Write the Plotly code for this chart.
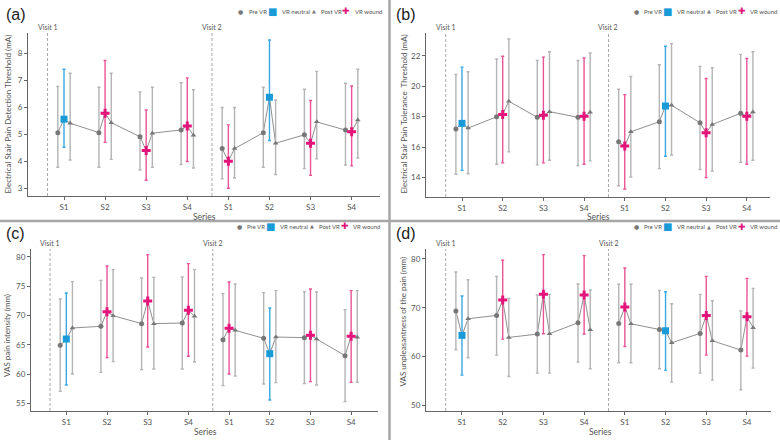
import plotly.graph_objects as go

W, H = 780, 440

# ---------------- data ----------------
cats = ["S1", "S2", "S3", "S4", "S1", "S2", "S3", "S4"]
visit_labels = ["Visit 1", "Visit 2"]
vr_type = ["neutral", "wound", "wound", "wound", "wound", "neutral", "wound", "wound"]

# (a) Electrical stair pain detection threshold (mA)
a_pre = [5.06, 5.06, 4.91, 5.16, 4.47, 5.06, 4.98, 5.16]
a_pre_hi = [6.77, 6.74, 6.57, 6.91, 5.99, 6.74, 6.67, 6.89]
a_pre_lo = [3.78, 3.78, 3.68, 3.88, 3.35, 3.78, 3.73, 3.86]
a_vr = [5.56, 5.78, 4.40, 5.31, 4.00, 6.37, 4.67, 5.09]
a_vr_hi = [7.41, 7.73, 5.90, 7.09, 5.35, 8.49, 6.25, 6.79]
a_vr_lo = [4.52, 4.70, 3.30, 3.99, 3.00, 4.77, 3.48, 3.83]
a_post = [5.41, 5.43, 5.04, 4.96, 4.47, 4.67, 5.46, 5.53]
a_post_hi = [7.26, 7.26, 6.74, 6.65, 5.99, 6.27, 7.33, 7.41]
a_post_lo = [4.05, 4.07, 3.78, 3.75, 3.38, 3.51, 4.09, 4.12]

# (b) Electrical stair pain tolerance threshold (mA)
b_pre = [17.19, 18.00, 17.96, 17.96, 16.35, 17.67, 17.60, 18.22]
b_pre_hi = [20.77, 21.78, 21.69, 21.69, 19.80, 21.41, 21.30, 22.09]
b_pre_lo = [14.22, 14.88, 14.84, 14.79, 13.47, 14.59, 14.53, 15.01]
b_vr = [17.56, 18.15, 18.09, 18.02, 16.07, 18.70, 16.95, 18.02]
b_vr_hi = [21.25, 21.96, 21.91, 21.85, 19.45, 22.62, 20.50, 21.82]
b_vr_lo = [14.48, 14.97, 14.97, 14.88, 13.25, 15.40, 14.00, 14.88]
b_post = [17.25, 19.01, 18.33, 18.29, 17.01, 18.75, 17.49, 18.31]
b_post_hi = [20.95, 23.10, 22.26, 22.18, 20.64, 22.79, 21.21, 22.26]
b_post_lo = [14.26, 15.69, 15.14, 15.10, 14.04, 15.49, 14.44, 15.14]

# (c) VAS pain intensity (mm)
c_pre = [64.94, 68.18, 68.64, 68.75, 65.90, 66.14, 66.25, 63.18]
c_pre_hi = [72.84, 76.02, 76.42, 76.60, 73.75, 73.92, 74.09, 71.02]
c_pre_lo = [57.10, 60.34, 60.80, 60.90, 58.07, 58.35, 58.41, 55.34]
c_vr = [66.02, 70.68, 72.50, 70.90, 67.84, 63.52, 66.65, 66.48]
c_vr_hi = [73.86, 78.47, 80.40, 78.86, 75.74, 71.30, 74.55, 74.26]
c_vr_lo = [58.18, 62.84, 64.66, 63.07, 60.06, 55.63, 58.75, 58.64]
c_post = [67.90, 70.00, 68.64, 69.90, 67.50, 66.36, 66.02, 66.30]
c_post_hi = [75.80, 77.84, 76.53, 77.84, 75.40, 74.26, 74.03, 74.26]
c_post_lo = [60.06, 62.16, 60.90, 62.10, 59.72, 58.58, 58.18, 58.64]

# (d) VAS unpleasantness of the pain (mm)
d_pre = [69.32, 68.42, 64.59, 66.92, 66.78, 65.55, 64.73, 61.30]
d_pre_hi = [77.33, 76.44, 72.60, 74.86, 74.80, 73.56, 72.74, 69.32]
d_pre_lo = [61.37, 60.27, 56.58, 58.84, 58.70, 57.47, 56.58, 53.15]
d_vr = [64.32, 71.58, 72.74, 72.60, 70.14, 65.27, 68.42, 68.15]
d_vr_hi = [72.40, 79.73, 80.90, 80.68, 78.15, 73.29, 76.44, 76.03]
d_vr_lo = [56.16, 63.56, 64.66, 64.59, 62.05, 57.19, 60.27, 60.07]
d_post = [67.74, 63.90, 64.66, 65.48, 66.71, 62.80, 63.22, 65.89]
d_post_hi = [75.75, 71.92, 72.74, 73.63, 74.80, 70.80, 71.44, 73.97]
d_post_lo = [59.73, 55.89, 56.58, 57.47, 58.70, 54.73, 55.14, 57.60]

y_titles = [
    "Electrical Stair Pain Detection Threshold (mA)",
    "Electrical Stair Pain Tolerance  Threshold (mA)",
    "VAS pain intensity (mm)",
    "VAS unpleasantness of the pain (mm)",
]
panel_labels = ["(a)", "(b)", "(c)", "(d)"]
legend_names = ["Pre VR", "VR neutral", "Post VR", "VR wound"]

# ---------------- styles / layout geometry ----------------
FONT = "Lato"
TXT = "#555555"
GRAY_M = "#777777"
GRAY_E = "#b4b4b4"
LINE_C = "#8f8f8f"
BLUE = "#1b9ad8"
BLUE_E = "#3aa8e2"
PINK = "#e3157a"
PINK_E = "#ea5496"
OFF = 0.15

panels = [
    dict(data=(a_pre, a_pre_hi, a_pre_lo, a_vr, a_vr_hi, a_vr_lo, a_post, a_post_hi, a_post_lo),
         px=(28, 380), py=(33, 196), xr=[-0.876, 7.69], yr=[2.715, 8.75], dtick=1,
         yt=(7, 114.5), lab=(4, 15), leg=(240.7, 11), vy=27, sx=(204, 217)),
    dict(data=(b_pre, b_pre_hi, b_pre_lo, b_vr, b_vr_hi, b_vr_lo, b_post, b_post_hi, b_post_lo),
         px=(426, 770), py=(33, 197), xr=[-0.885, 7.57], yr=[12.73, 23.49], dtick=2,
         yt=(403, 114.5), lab=(394, 15), leg=(636, 11), vy=27, sx=(598, 217)),
    dict(data=(c_pre, c_pre_hi, c_pre_lo, c_vr, c_vr_hi, c_vr_lo, c_post, c_post_hi, c_post_lo),
         px=(31, 378), py=(249, 411), xr=[-0.868, 7.66], yr=[53.75, 81.36], dtick=5,
         yt=(7, 336), lab=(4, 233), leg=(239.3, 226), vy=243, sx=(205, 432)),
    dict(data=(d_pre, d_pre_hi, d_pre_lo, d_vr, d_vr_hi, d_vr_lo, d_post, d_post_hi, d_post_lo),
         px=(426, 771), py=(249, 411), xr=[-0.884, 7.59], yr=[48.8, 82.05], dtick=10,
         yt=(402, 321.5), lab=(394, 233), leg=(636, 227), vy=243, sx=(600, 432)),
]


def fx(p):
    return p / W


def fy(p):
    return 1 - p / H


fig = go.Figure()
annotations = []
shapes = []
layout = {}

for i, P in enumerate(panels):
    n = "" if i == 0 else str(i + 1)
    xa, ya = "x" + n, "y" + n
    pre, pre_hi, pre_lo, vr, vr_hi, vr_lo, post, post_hi, post_lo = P["data"]
    pos = list(range(len(cats)))

    # connecting line (separate per visit)
    lx, ly = [], []
    for k in pos:
        if k == 4:
            lx.append(None)
            ly.append(None)
        lx += [k - OFF, k, k + OFF]
        ly += [pre[k], vr[k], post[k]]
    fig.add_trace(go.Scatter(x=lx, y=ly, mode="lines", line=dict(color=LINE_C, width=1),
                             xaxis=xa, yaxis=ya, showlegend=False, hoverinfo="skip"))

    def add(xs, ys, hi, lo, sym, col, ecol, size, name):
        fig.add_trace(go.Scatter(
            x=xs, y=ys, mode="markers", name=name, xaxis=xa, yaxis=ya, showlegend=False,
            marker=dict(symbol=sym, color=col, size=size, line=dict(width=0)),
            error_y=dict(type="data", symmetric=False,
                         array=[h - v for h, v in zip(hi, ys)],
                         arrayminus=[v - l for v, l in zip(ys, lo)],
                         color=ecol, thickness=1.4, width=1.5)))

    add([k - OFF for k in pos], pre, pre_hi, pre_lo, "circle", GRAY_M, GRAY_E, 5, "Pre VR")
    add([k + OFF for k in pos], post, post_hi, post_lo, "triangle-up", GRAY_M, GRAY_E, 5, "Post VR")
    idx_n = [k for k in pos if vr_type[k] == "neutral"]
    idx_w = [k for k in pos if vr_type[k] == "wound"]
    add(idx_n, [vr[k] for k in idx_n], [vr_hi[k] for k in idx_n], [vr_lo[k] for k in idx_n],
        "square", BLUE, BLUE_E, 7, "VR neutral")
    add(idx_w, [vr[k] for k in idx_w], [vr_hi[k] for k in idx_w], [vr_lo[k] for k in idx_w],
        "cross", PINK, PINK_E, 7.5, "VR wound")

    layout["xaxis" + n] = dict(
        domain=[fx(P["px"][0]), fx(P["px"][1])], anchor=ya, range=P["xr"],
        tickmode="array", tickvals=pos, ticktext=cats, showgrid=False, zeroline=False,
        showline=True, linecolor="#666666", linewidth=1, ticks="outside", ticklen=3,
        tickcolor="#666666", tickfont=dict(family=FONT, size=8, color=TXT))
    layout["yaxis" + n] = dict(
        domain=[fy(P["py"][1]), fy(P["py"][0])], anchor=xa, range=P["yr"], dtick=P["dtick"],
        showgrid=False, zeroline=False, showline=True, linecolor="#666666", linewidth=1,
        ticks="outside", ticklen=3, tickcolor="#666666",
        tickfont=dict(family=FONT, size=8, color=TXT))

    # visit separators
    for vx, vl in zip([-0.4, 3.6], visit_labels):
        shapes.append(dict(type="line", xref=xa, yref=ya + " domain", x0=vx, x1=vx, y0=0, y1=1,
                           line=dict(color="#a8a8a8", width=1, dash="3px,2px")))
        annotations.append(dict(xref=xa, yref="paper", x=vx, y=fy(P["vy"]), text=vl,
                                showarrow=False, font=dict(family=FONT, size=7, color=TXT),
                                xanchor="center", yanchor="middle"))

    # titles
    annotations.append(dict(xref="paper", yref="paper", x=fx(P["yt"][0]), y=fy(P["yt"][1]),
                            text=y_titles[i], textangle=-90, showarrow=False,
                            font=dict(family=FONT, size=8, color=TXT),
                            xanchor="center", yanchor="middle"))
    annotations.append(dict(xref="paper", yref="paper", x=fx(P["sx"][0]), y=fy(P["sx"][1]),
                            text="Series", showarrow=False,
                            font=dict(family=FONT, size=8.5, color=TXT),
                            xanchor="center", yanchor="middle"))
    annotations.append(dict(xref="paper", yref="paper", x=fx(P["lab"][0]), y=fy(P["lab"][1]),
                            text=panel_labels[i], showarrow=False,
                            font=dict(family="Liberation Sans", size=16, color="#222222"),
                            xanchor="left", yanchor="middle"))

    # custom compact legend
    lx0, ly0 = P["leg"]
    glyphs = [("●", GRAY_M, 6), ("■", BLUE, 10), ("▲", GRAY_M, 5), ("✚", PINK, 9)]
    m_off = [0, 31.5, 73, 105.5]
    t_off = [6, 39, 78, 112]
    for (g, c, s), mo, to, name in zip(glyphs, m_off, t_off, legend_names):
        annotations.append(dict(xref="paper", yref="paper", x=fx(lx0 + mo), y=fy(ly0),
                                text=g, showarrow=False, font=dict(family="DejaVu Sans", size=s, color=c),
                                xanchor="center", yanchor="middle"))
        annotations.append(dict(xref="paper", yref="paper", x=fx(lx0 + to), y=fy(ly0),
                                text=name, showarrow=False, font=dict(family=FONT, size=6, color=TXT),
                                xanchor="left", yanchor="middle"))

# panel dividers
shapes.append(dict(type="line", xref="paper", yref="paper", x0=fx(389.5), x1=fx(389.5), y0=0, y1=1,
                   line=dict(color="#a6a6a6", width=2.5)))
shapes.append(dict(type="line", xref="paper", yref="paper", x0=0, x1=1, y0=fy(221), y1=fy(221),
                   line=dict(color="#a6a6a6", width=2.5)))

fig.update_layout(
    width=W, height=H, margin=dict(l=0, r=0, t=0, b=0),
    paper_bgcolor="white", plot_bgcolor="white", showlegend=False,
    annotations=annotations, shapes=shapes, **layout)

fig.write_html("out.html")
